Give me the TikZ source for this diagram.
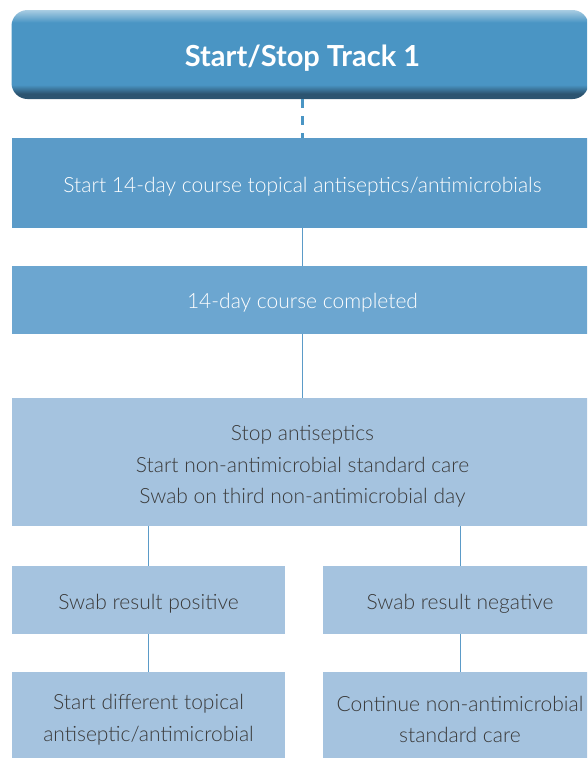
\documentclass[tikz,border=0pt]{standalone}
\usepackage{fontspec}
\setmainfont{Lato}
\newfontfamily\lightfont{Lato Light}
\definecolor{hdrmain}{HTML}{4A95C4}
\definecolor{hdrdark}{HTML}{2C5470}
\definecolor{hdrlight}{HTML}{A9CDE2}
\definecolor{boxA}{HTML}{5B9BC8}
\definecolor{boxB}{HTML}{6CA6D0}
\definecolor{boxC}{HTML}{A5C3DF}
\definecolor{txt}{HTML}{3A3A3A}
\pgfdeclareverticalshading{hdrshade}{100bp}{color(0bp)=(hdrdark); color(25bp)=(hdrdark); color(28bp)=(hdrdark); color(33bp)=(hdrmain); color(68bp)=(hdrmain); color(75bp)=(hdrlight); color(100bp)=(hdrlight)}
\tikzset{
  hdrbox/.style={rectangle, rounded corners=16pt, shading=hdrshade, inner sep=0pt},
  hdrtext/.style={text=white, inner sep=0pt, font=\bfseries\fontsize{29}{34}\selectfont},
  fbox/.style={rectangle, inner sep=0pt},
  boxa/.style={fbox, fill=boxA},
  boxb/.style={fbox, fill=boxB},
  boxc/.style={fbox, fill=boxC},
  ftext/.style={inner sep=0pt, align=center, font=\lightfont\fontsize{21}{31.5}\selectfont},
  wtext/.style={ftext, text=white},
  dtext/.style={ftext, text=txt},
  conn/.style={draw=boxA, line width=1pt},
  dconn/.style={draw=hdrmain, line width=2.2pt, dash pattern=on 9pt off 8pt}
}
\begin{document}
\begin{tikzpicture}[x=1pt,y=-1pt]
\useasboundingbox (0,0) rectangle (587,758);
\clip (0,0) rectangle (587,758);
\node[hdrbox, minimum width=577, minimum height=89] (hdr) at (300,54.5) {};
\node[hdrtext] (thdr) at (302.5,58) {Start/Stop Track 1};
\node[boxa, minimum width=581, minimum height=90] (b1) at (302.5,183) {};
\node[boxb, minimum width=581, minimum height=68] (b2) at (302.5,300) {};
\node[boxc, minimum width=581, minimum height=128] (b3) at (302.5,462) {};
\node[boxc, minimum width=273, minimum height=68] (b4l) at (148.5,600) {};
\node[boxc, minimum width=274, minimum height=68] (b4r) at (460,600) {};
\node[boxc, minimum width=273, minimum height=86] (b5l) at (148.5,715) {};
\node[boxc, minimum width=274, minimum height=86] (b5r) at (460,715) {};
\node[wtext] (t1) at ([yshift=-4pt]b1.center) {Start 14-day course topical antiseptics/antimicrobials};
\node[wtext] (t2) at ([yshift=-3pt]b2.center) {14-day course completed};
\node[dtext] (t3) at ([yshift=-4.5pt]b3.center) {Stop antiseptics\\Start non-antimicrobial standard care\\Swab on third non-antimicrobial day};
\node[dtext] (t4l) at ([yshift=-3.5pt]b4l.center) {Swab result positive};
\node[dtext] (t4r) at ([yshift=-3.5pt]b4r.center) {Swab result negative};
\node[dtext] (t5l) at ([yshift=-4.5pt]b5l.center) {Start different topical\\antiseptic/antimicrobial};
\node[dtext] (t5r) at ([yshift=-4.5pt]b5r.center) {Continue non-antimicrobial\\standard care};
\draw[dconn] (hdr.south -| b1.north) -- (b1.north);
\draw[conn] (b1) -- (b2);
\draw[conn] (b2) -- (b3);
\draw[conn] (b3.south -| b4l.north) -- (b4l.north);
\draw[conn] (b3.south -| b4r.north) -- (b4r.north);
\draw[conn] (b4l) -- (b5l);
\draw[conn] (b4r) -- (b5r);
\end{tikzpicture}
\end{document}
